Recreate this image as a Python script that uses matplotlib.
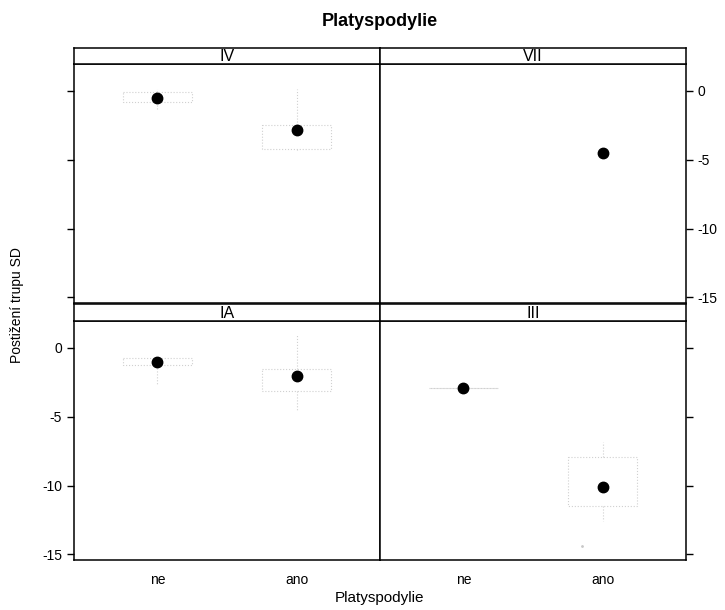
import matplotlib.pyplot as plt
import numpy as np

plt.rcParams['font.family'] = ['Liberation Sans', 'DejaVu Sans']
plt.rcParams['axes.unicode_minus'] = False

panels = ['IV', 'VII', 'IA', 'III']
categories = ['ne', 'ano']

# black dots per panel (None = no data)
points = {
    'IV': [-0.5, -2.85],
    'VII': [None, -4.5],
    'IA': [-1.0, -2.05],
    'III': [-2.9, -10.1],
}
# faint boxes: q1, q3, whisker high, whisker low
boxes = {
    'IV': [(-0.1, -0.8, 0.1, -1.3), (-2.5, -4.2, 0.1, -4.4)],
    'VII': [None, None],
    'IA': [(-0.7, -1.25, -0.5, -2.7), (-1.5, -3.1, 1.0, -4.5)],
    'III': [(-2.9, -2.9, -2.9, -2.9), (-7.9, -11.5, -6.8, -12.6)],
}
outliers = {'III': [(2, -14.4)]}
yticks = [0, -5, -10, -15]

fig = plt.figure(figsize=(7.25, 6.10), dpi=100)
fig.text(0.524, 0.965, 'Platyspodylie', ha='center', va='center',
         fontsize=13, fontweight='bold')

W, H = 725, 610
lefts = [74, 380]
rows = [(48, 64, 303), (304, 321, 560)]
pw = 306


def fx(px):
    return px / W


def fy(py):
    return 1 - py / H


for i, name in enumerate(panels):
    r, c = divmod(i, 2)
    st, pt, pb = rows[r]
    x0 = lefts[c]
    ax = fig.add_axes([fx(x0), fy(pb), fx(pw), fy(pt) - fy(pb)])
    sax = fig.add_axes([fx(x0), fy(pt), fx(pw), fy(st) - fy(pt)])
    sax.set_xticks([])
    sax.set_yticks([])
    sax.text(0.5, 0.45, name, ha='center', va='center', fontsize=11.5,
             transform=sax.transAxes)
    for s in sax.spines.values():
        s.set_linewidth(1.1)

    xs = np.arange(1, len(categories) + 1)
    for xv, b in zip(xs, boxes[name]):
        if b is None:
            continue
        q1, q3, wh, wl = b
        kw = dict(color='#d0d0d0', lw=0.8, ls=':')
        ax.plot([xv - 0.25, xv + 0.25, xv + 0.25, xv - 0.25, xv - 0.25],
                [q1, q1, q3, q3, q1], **kw)
        ax.plot([xv, xv], [q1, wh], **kw)
        ax.plot([xv, xv], [q3, wl], **kw)
    for xv, yv in outliers.get(name, []):
        ax.plot(xv - 0.15, yv, '.', color='#c8c8c8', ms=2)
    for xv, yv in zip(xs, points[name]):
        if yv is not None:
            ax.plot(xv, yv, 'o', color='black', ms=7.5)

    ax.set_xlim(0.4, 2.6)
    ax.set_ylim(-15.4, 1.95)
    ax.set_yticks(yticks)
    ax.tick_params(direction='out', length=5, width=1, labelsize=10)
    for s in ax.spines.values():
        s.set_linewidth(1.1)
    if r == 1:
        ax.set_xticks(xs)
        ax.set_xticklabels(categories)
        ax.tick_params(axis='x', length=0, pad=9)
    else:
        ax.set_xticks([])
    if c == 0:
        ax.tick_params(axis='y', left=True, right=False,
                       labelleft=(r == 1), labelright=False)
    else:
        ax.tick_params(axis='y', left=False, right=True,
                       labelleft=False, labelright=(r == 0))

fig.text(0.524, 0.019, 'Platyspodylie', ha='center', va='center', fontsize=11)
fig.text(0.023, 0.50, 'Postižení trupu SD', ha='center', va='center',
         rotation=90, fontsize=10)

fig.savefig('out.png', dpi=100)
